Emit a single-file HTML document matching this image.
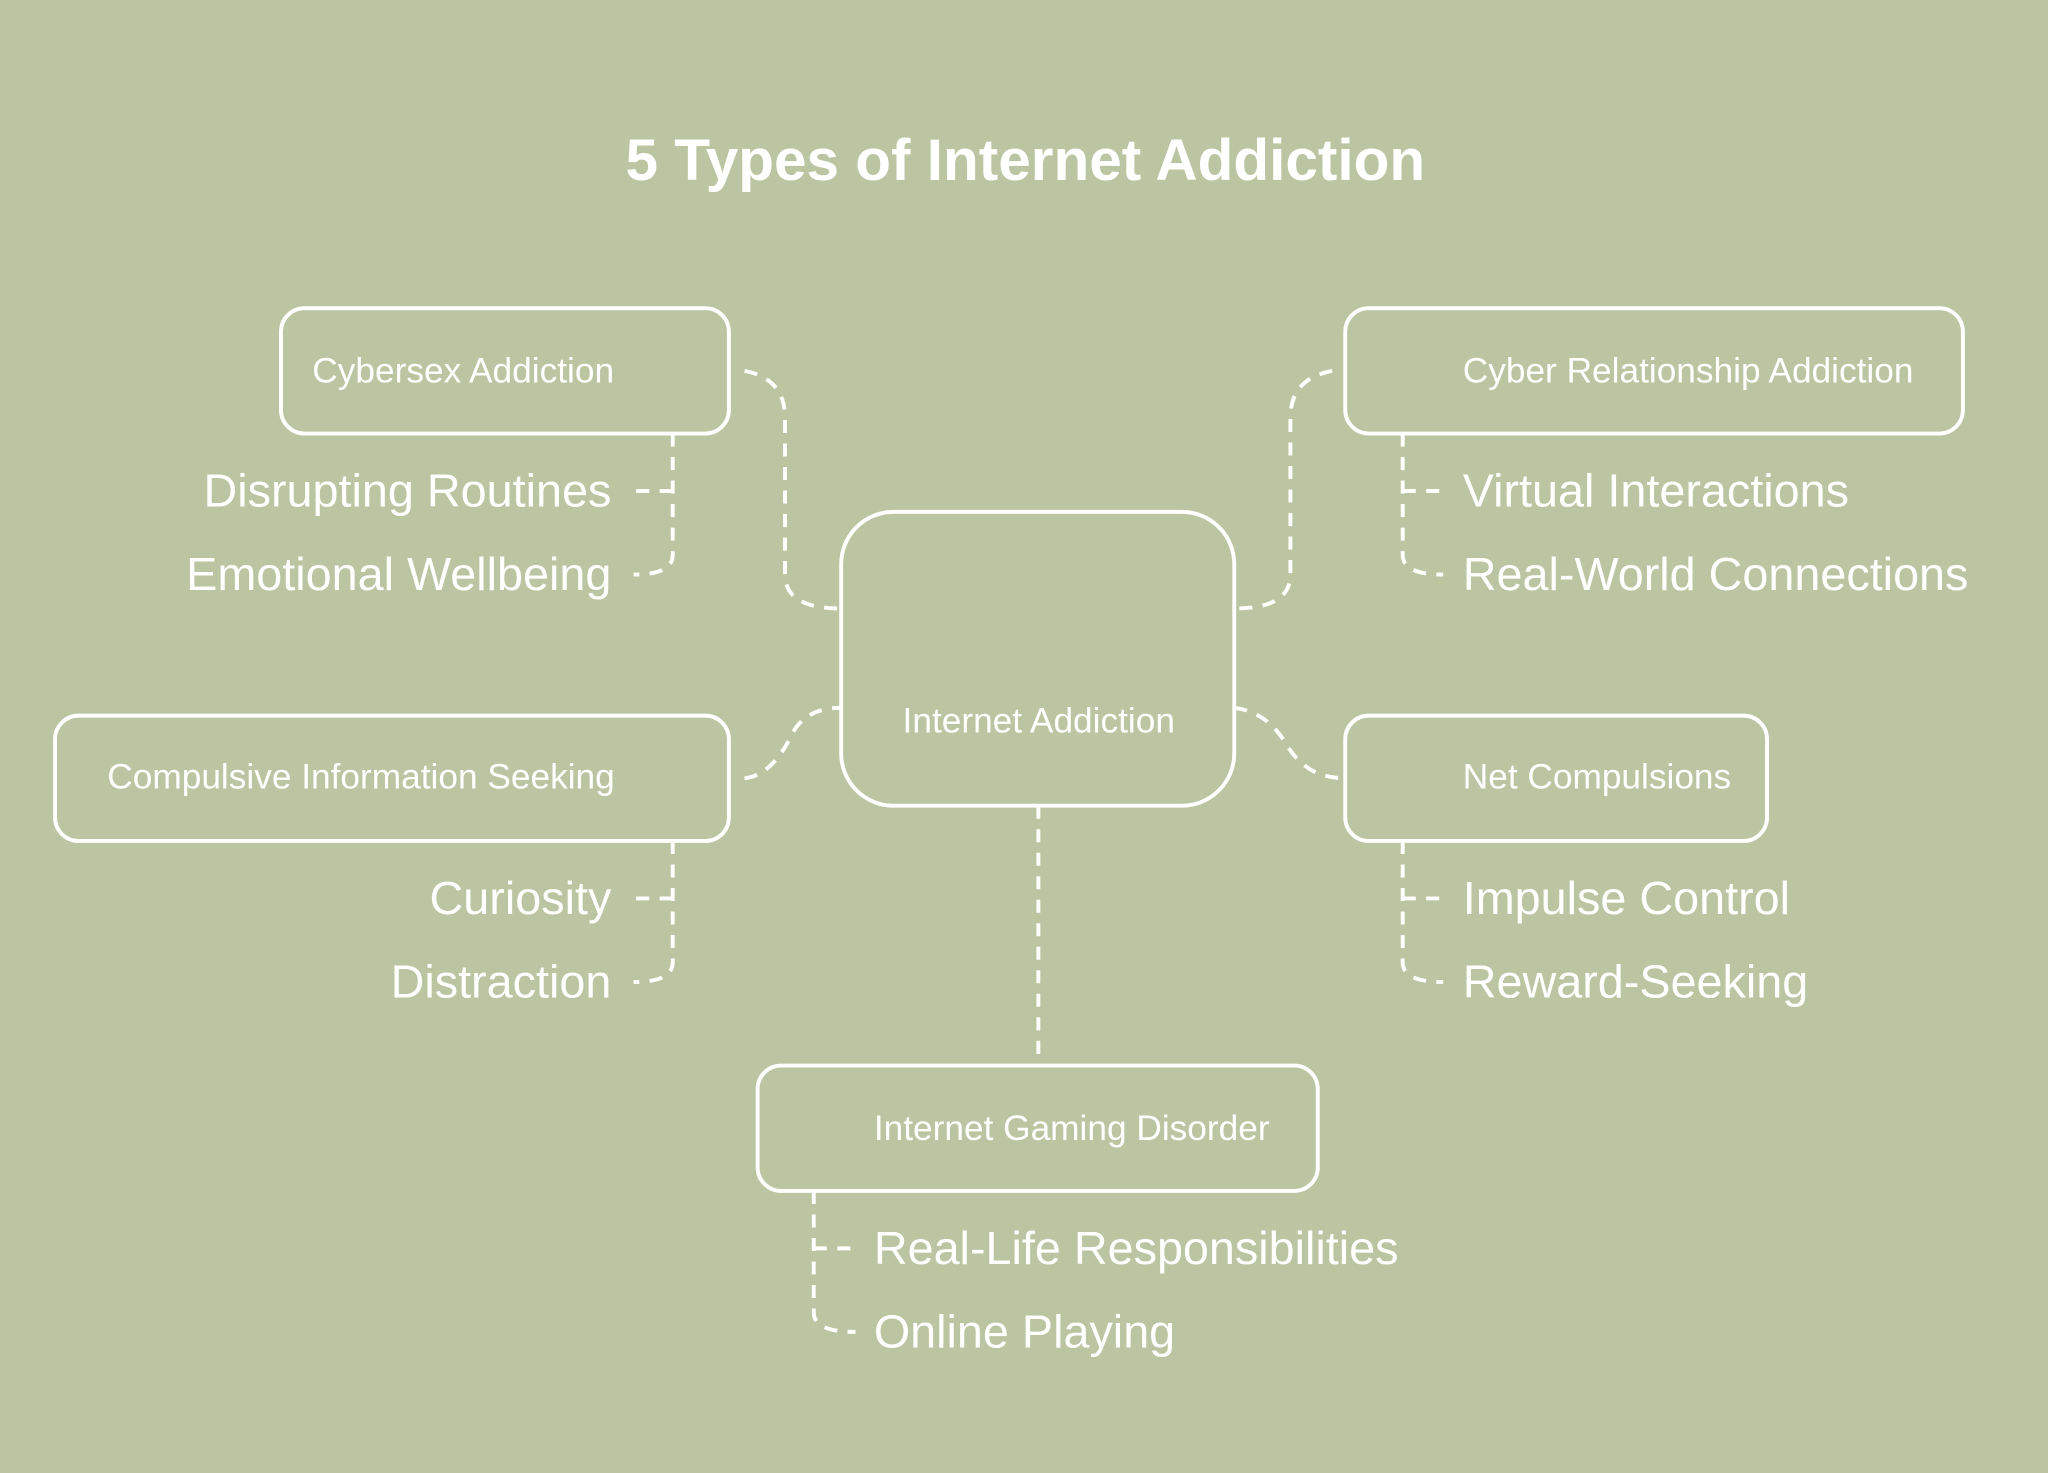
<!DOCTYPE html>
<html><head><meta charset="utf-8"><style>
html,body{margin:0;padding:0;background:#bbc5a2;}
svg{display:block;}
text{font-family:"Liberation Sans",Arial,sans-serif;fill:#fff;}
</style></head><body>
<svg width="2048" height="1473" viewBox="0 0 1568 1128" xmlns="http://www.w3.org/2000/svg">
<rect width="1568" height="1128" fill="#bbc5a2"/>
<text x="785" y="138" font-size="44.8" font-weight="bold" text-anchor="middle">5 Types of Internet Addiction</text>
<g fill="none" stroke="#fff" stroke-width="3">
<rect x="215" y="236" width="343" height="96" rx="18"/>
<rect x="1030" y="236" width="473" height="96" rx="18"/>
<rect x="644" y="392" width="301" height="225" rx="40"/>
<rect x="42" y="548" width="516" height="96" rx="18"/>
<rect x="1030" y="548" width="323" height="96" rx="18"/>
<rect x="580" y="816" width="429" height="96" rx="18"/>
</g>
<g fill="none" stroke="#fff" stroke-width="3" stroke-dasharray="10 8">
<path d="M570 284 Q601 290 601 320 L601 440 Q601 466 644 466"/>
<path d="M1020 284 Q988 290 988 320 L988 440 Q988 466 945 466"/>
<path d="M570 596 Q590 594 605 565 Q615 542 644 542"/>
<path d="M945 542 Q970 545 985 570 Q1000 596 1030 596"/>
<path d="M795 617 L795 816"/>
<path d="M515 332 L515 425 Q515 440 485 440"/>
<path d="M515 376 L485 376"/>
<path d="M515 644 L515 737 Q515 752 485 752"/>
<path d="M515 688 L485 688"/>
<path d="M1074 332 L1074 425 Q1074 440 1105 440"/>
<path d="M1074 376 L1105 376"/>
<path d="M1074 644 L1074 737 Q1074 752 1105 752"/>
<path d="M1074 688 L1105 688"/>
<path d="M623 912 L623 1005 Q623 1020 655 1020"/>
<path d="M623 956 L655 956"/>
</g>
<g font-size="27">
<text x="239" y="293">Cybersex Addiction</text>
<text x="1120" y="293">Cyber Relationship Addiction</text>
<text x="691" y="561">Internet Addiction</text>
<text x="82" y="604">Compulsive Information Seeking</text>
<text x="1120" y="604">Net Compulsions</text>
<text x="669" y="873">Internet Gaming Disorder</text>
</g>
<g font-size="35.8">
<text x="468" y="388" text-anchor="end">Disrupting Routines</text>
<text x="468" y="452" text-anchor="end">Emotional Wellbeing</text>
<text x="468" y="700" text-anchor="end">Curiosity</text>
<text x="468" y="764" text-anchor="end">Distraction</text>
<text x="1120" y="388">Virtual Interactions</text>
<text x="1120" y="452">Real-World Connections</text>
<text x="1120" y="700">Impulse Control</text>
<text x="1120" y="764">Reward-Seeking</text>
<text x="669" y="968">Real-Life Responsibilities</text>
<text x="669" y="1032">Online Playing</text>
</g>
</svg>
</body></html>
